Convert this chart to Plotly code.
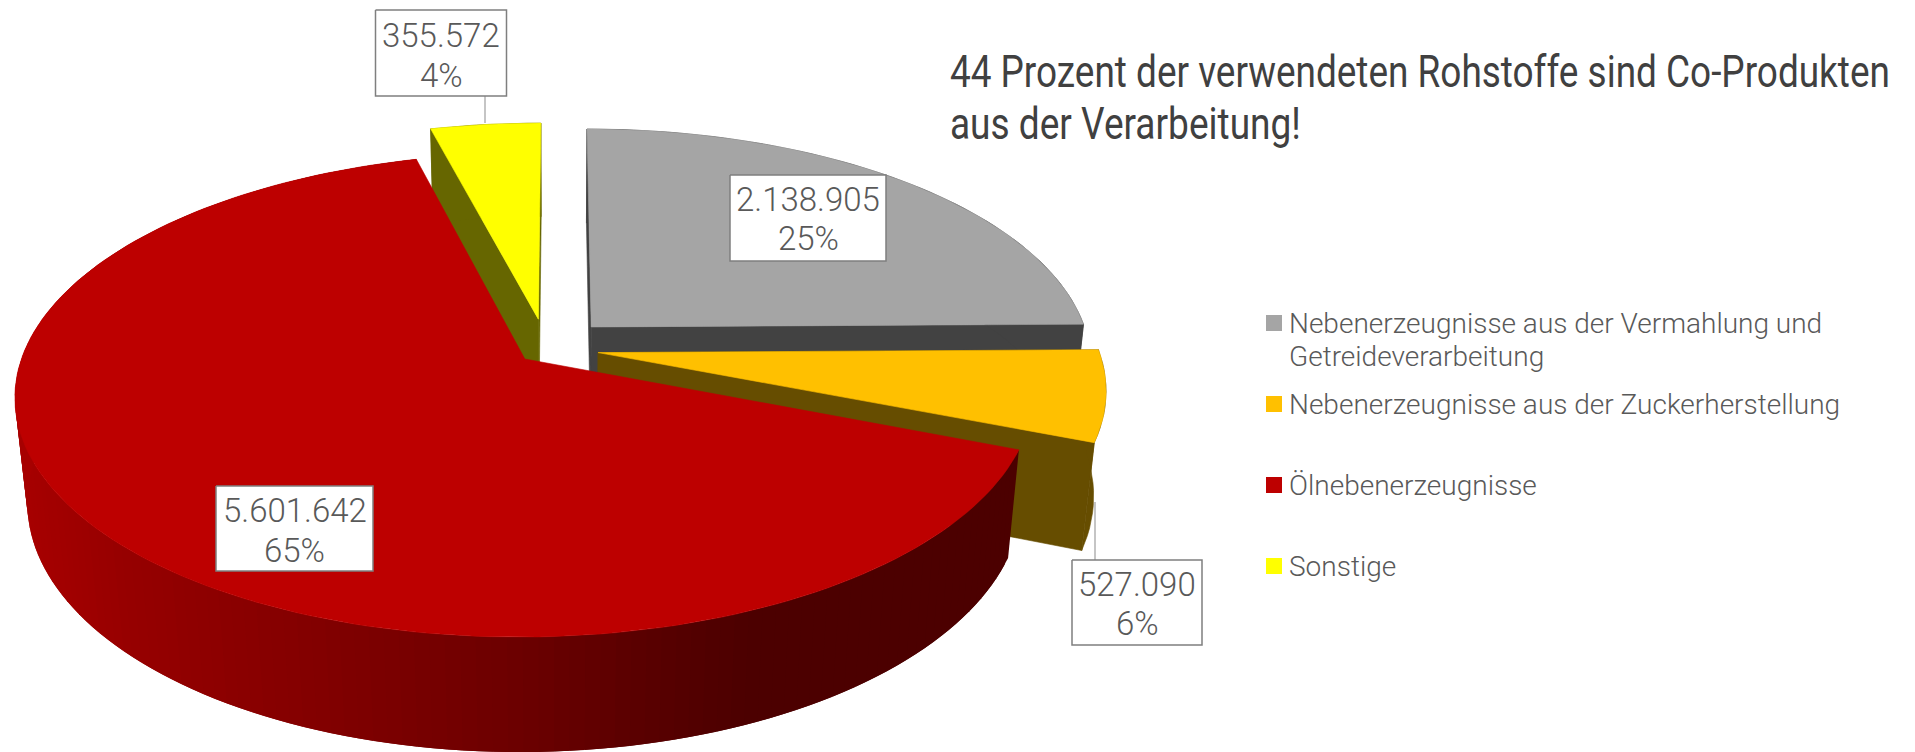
import numpy as np
import plotly.graph_objects as go

categories = ["Nebenerzeugnisse aus der Vermahlung und<br>Getreideverarbeitung",
              "Nebenerzeugnisse aus der Zuckerherstellung",
              "Ölnebenerzeugnisse",
              "Sonstige"]
values = [2138905, 527090, 5601642, 355572]
top_colors = ["#A5A5A5", "#FFC000", "#BD0000", "#FFFF00"]
wall_colors = ["#424242", "#664D00", None, "#666600"]
title_lines = ["44 Prozent der verwendeten Rohstoffe sind Co-Produkten", "aus der Verarbeitung!"]

# projection of the pie (perspective view)
CX, CY, R, A, P, Q, T = 558.0, 342.0, 498.0, 231.4, 0.148, 0.0225, 106.0
offsets = [(0.0674, -0.0656), (0.080, 0.0455), (-0.0659, 0.0727), (-0.040, -0.100)]
draw_order = [0, 3, 1, 2]

# label layout: box x0,x1,y0,y1, text centre x, line centres y
boxes = [(730, 886, 175, 261, 808, 199, 238.5),
         (1072, 1202, 560, 645, 1137, 584, 623.5),
         (216, 373, 486, 571, 294.5, 510, 550),
         (375.5, 506.5, 10, 96, 441, 35, 75)]
leaders = [None, (1095, 502, 1095, 560), None, (485, 96, 485, 123)]
legend_y = [323, 404, 485, 566]

TEXT = "#595959"
FONT = "Roboto"


def project(u, v, bottom=False):
    u, v = np.asarray(u, float), np.asarray(v, float)
    if bottom:
        w = 1 - P * v + Q
        return CX + R * u / w, CY + (A * v + T) / w
    w = 1 - P * v
    return CX + R * u / w, CY + A * v / w


def rim(a0, a1, off, n):
    t = np.radians(np.linspace(a0, a1, n))
    return off[0] + np.sin(t), off[1] - np.cos(t)


def poly(fig, x, y, color, width=0.6):
    fig.add_trace(go.Scatter(x=np.r_[x, x[0]], y=np.r_[y, y[0]], mode="lines", fill="toself",
                             fillcolor=color, line=dict(color=color, width=width),
                             hoverinfo="skip", showlegend=False))


def red_shade(x):
    r = np.interp(x, [14, 130, 300, 520, 700, 760, 1100], [168, 150, 132, 108, 82, 76, 76])
    return f"rgb({int(r)},0,0)"


fig = go.Figure()
total = sum(values)
starts = np.r_[0, np.cumsum(values)[:-1]] / total * 360
ends = np.cumsum(values) / total * 360

for i in draw_order:
    a0, a1, off = starts[i], ends[i], offsets[i]
    n = max(8, int((a1 - a0) / 1.5))
    u, v = rim(a0, a1, off, n)
    tx, ty = project(u, v)
    bx, by = project(u, v, True)
    ax_t, ay_t = project(off[0], off[1])
    ax_b, ay_b = project(off[0], off[1], True)
    if wall_colors[i]:
        c = wall_colors[i]
        poly(fig, np.r_[ax_t, tx[0], bx[0], ax_b], np.r_[ay_t, ty[0], by[0], ay_b], c)
        poly(fig, np.r_[ax_t, tx[-1], bx[-1], ax_b], np.r_[ay_t, ty[-1], by[-1], ay_b], c)
        poly(fig, np.r_[tx, bx[::-1]], np.r_[ty, by[::-1]], c)
    else:
        # overlapping strips, painted in order, so no seams show between shades
        for j in range(n - 1):
            k = min(j + 3, n)
            xs = np.r_[tx[j:k], bx[j:k][::-1]]
            ys = np.r_[ty[j:k], by[j:k][::-1]]
            poly(fig, xs, ys, red_shade(tx[j:j + 2].mean()), width=0)
    poly(fig, np.r_[ax_t, tx], np.r_[ay_t, ty], top_colors[i])

annots = []
for i, val in enumerate(values):
    x0, x1, y0, y1, xc, l1, l2 = boxes[i]
    if leaders[i]:
        lx0, ly0, lx1, ly1 = leaders[i]
        fig.add_trace(go.Scatter(x=[lx0, lx1], y=[ly0, ly1], mode="lines",
                                 line=dict(color="#A6A6A6", width=1.3), hoverinfo="skip", showlegend=False))
    fig.add_trace(go.Scatter(x=[x0, x1, x1, x0, x0], y=[y0, y0, y1, y1, y0], mode="lines", fill="toself",
                             fillcolor="white", line=dict(color="#7F7F7F", width=1.5),
                             hoverinfo="skip", showlegend=False))
    label = f"{val:,}".replace(",", ".")
    pct = f"{round(val / total * 100)}%"
    for txt, yy in ((label, l1), (pct, l2)):
        annots.append(dict(x=xc, y=yy, text=txt, showarrow=False, xanchor="center", yanchor="middle",
                           font=dict(family=FONT, size=33, color=TEXT, weight=300)))

for name, color, yy in zip(categories, top_colors, legend_y):
    fig.add_trace(go.Scatter(x=[1274], y=[yy], mode="markers",
                             marker=dict(symbol="square", size=16, color=color, line=dict(width=0)),
                             hoverinfo="skip", showlegend=False))
    for k, ln in enumerate(name.split("<br>")):
        annots.append(dict(x=1287, y=yy + k * 33, text=ln, showarrow=False, xanchor="left", yanchor="middle",
                           font=dict(family=FONT, size=28, color=TEXT, weight=300)))

# title lines: drawn inside the page, then condensed to the reference's measure (see post_script)
title_spans = [(950, 1890), (950, 1301)]
title_draw_x = [1280, 1125.5]
for ln, yy, dx in zip(title_lines, (72, 124), title_draw_x):
    annots.append(dict(x=dx, y=yy, text=ln, showarrow=False, xanchor="center", yanchor="middle",
                       font=dict(family=FONT, size=44, color="#404040")))

fig.update_layout(width=1915, height=752, margin=dict(l=0, r=0, t=0, b=0),
                  paper_bgcolor="white", plot_bgcolor="white", annotations=annots,
                  xaxis=dict(range=[0, 1915], visible=False, fixedrange=True),
                  yaxis=dict(range=[752, 0], visible=False, fixedrange=True))

squeeze = "".join(
    f"""document.querySelectorAll('.annotation-text').forEach(function(t){{
        if (t.textContent === {ln!r}) {{
            t.setAttribute('textLength', '{xb - xa}');
            t.setAttribute('lengthAdjust', 'spacingAndGlyphs');
            t.style.transform = 'translateX({(xa + xb) / 2 - dx}px)';
        }}
    }});"""
    for ln, (xa, xb), dx in zip(title_lines, title_spans, title_draw_x))
fig.write_html("out.html", config={"displayModeBar": False},
               post_script="document.body.style.margin='0';" + squeeze)
